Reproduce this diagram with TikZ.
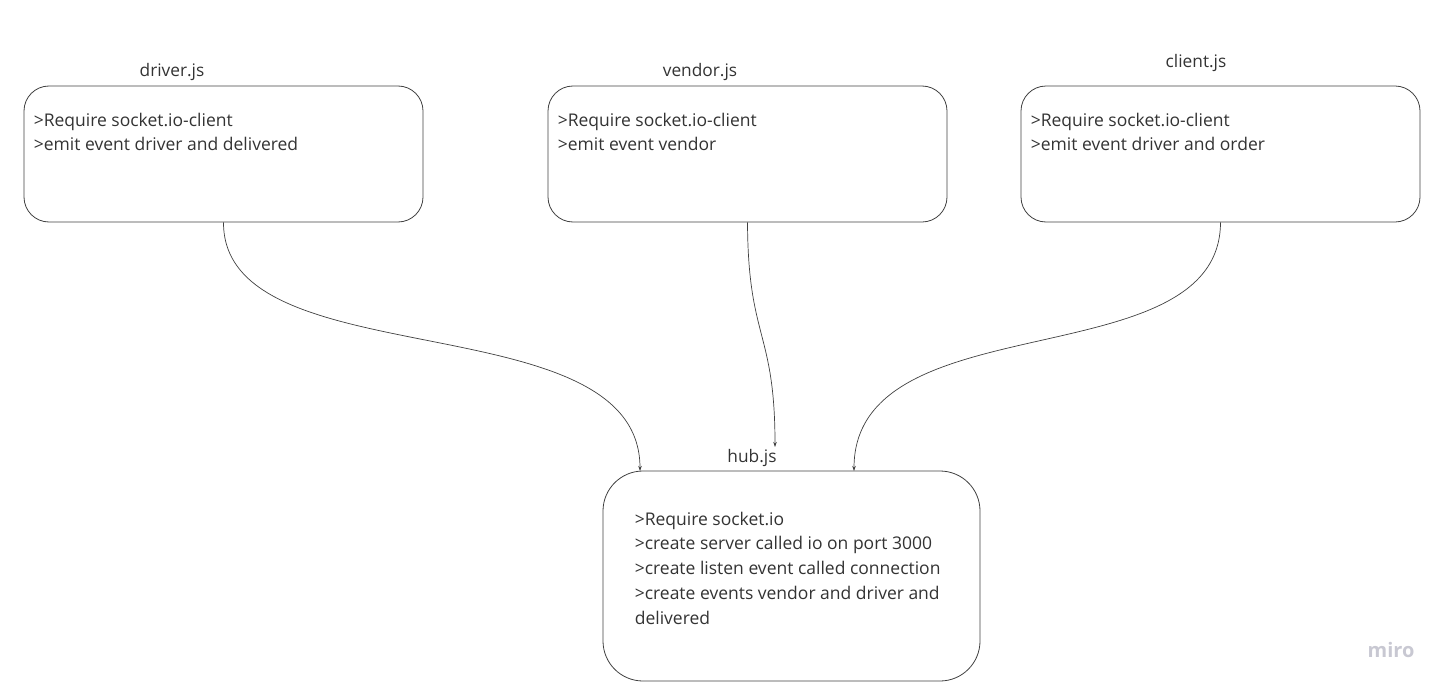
\documentclass[tikz,border=0pt]{standalone}
\usepackage{fontspec}
\setmainfont{Open Sans}
\usepackage{tikz}
\usetikzlibrary{positioning,
				arrows.meta}

\definecolor{edgegray}{HTML}{404040}
\definecolor{txtgray}{HTML}{333333}
\definecolor{mirogray}{HTML}{C8C8D2}

\begin{document}
\begin{tikzpicture}[x=1pt,y=-1pt,
  jsbox/.style={draw=edgegray, line width=0.8pt, rounded corners=25pt, inner sep=0pt,
                minimum width=399pt, minimum height=136pt},
  hubbox/.style={draw=edgegray, line width=0.8pt, rounded corners=40pt, inner sep=0pt,
                minimum width=377pt, minimum height=210pt},
  jslabel/.style={text=txtgray, font=\fontsize{17.3}{20}\selectfont},
  jstext/.style={text=txtgray, inner sep=0pt, align=left, font=\fontsize{17.5}{24.8}\selectfont},
  link/.style={draw=edgegray, line width=0.7pt, -{Stealth[length=5pt,width=3.5pt]}}]
  \useasboundingbox (0,0) rectangle (1447,690);
  % boxes
  \node[jsbox] (drv) at (223.5,154) {};
  \node[jsbox] (vnd) at (747.5,154) {};
  \node[jsbox] (cli) at (1220.5,154) {};
  \node[hubbox] (hub) at (791.5,576) {};
  % titles
  \node[jslabel] (drvname) at (172,72) {driver.js};
  \node[jslabel] (vndname) at (700,72) {vendor.js};
  \node[jslabel] (cliname) at (1196,63) {client.js};
  \node[jslabel] (hubname) at (752,458) {hub.js};
  % contents
  \node[jstext, below right=27pt and 10pt of drv.north west, anchor=north west] (drvtxt)
    {>Require socket.io-client\\>emit event driver and delivered};
  \node[jstext, below right=27pt and 10pt of vnd.north west, anchor=north west] (vndtxt)
    {>Require socket.io-client\\>emit event vendor};
  \node[jstext, below right=27pt and 10pt of cli.north west, anchor=north west] (clitxt)
    {>Require socket.io-client\\>emit event driver and order};
  \node[jstext, below right=41pt and 32pt of hub.north west, anchor=north west] (hubtxt)
    {>Require socket.io\\>create server called io on port 3000\\>create listen event called connection\\>create events vendor and driver and\\delivered};
  \node[text=mirogray, font=\fontsize{20}{22}\selectfont\bfseries] (logo) at (1391,650) {miro};
  % links
  \coordinate (hubA) at (640,471);
  \coordinate (hubB) at (775,447);
  \coordinate (hubC) at (854,471);
  \draw[link] (drv.south) .. controls (223,380) and (640,300) .. (hubA);
  \draw[link] (vnd.south) .. controls (748,340) and (775,330) .. (hubB);
  \draw[link] (cli.south) .. controls (1220,380) and (854,300) .. (hubC);
\end{tikzpicture}
\end{document}
